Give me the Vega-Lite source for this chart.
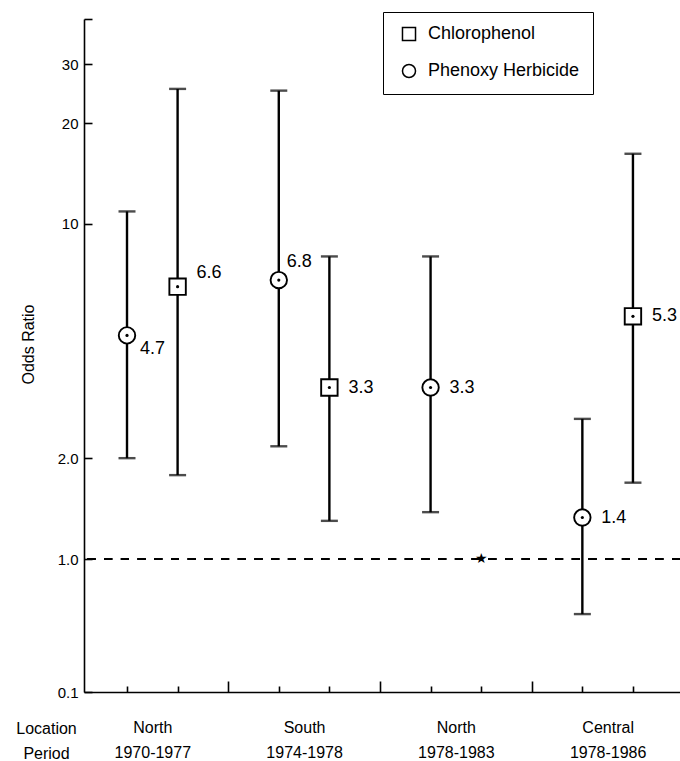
{
  "$schema": "https://vega.github.io/schema/vega-lite/v6.json",
  "autosize": "none",
  "width": 596,
  "height": 673,
  "padding": {"left": 84, "top": 19, "right": 0, "bottom": 69},
  "background": "white",
  "config": {
    "view": {"stroke": null},
    "font": "Liberation Sans",
    "text": {"font": "Liberation Sans"}
  },
  "datasets": {
    "est": [
      {"slot": 1, "type": "Phenoxy Herbicide", "or": 4.65, "lo": 2.0, "hi": 10.9, "label": "4.7"},
      {"slot": 2, "type": "Chlorophenol", "or": 6.5, "lo": 1.78, "hi": 25.3, "label": "6.6"},
      {"slot": 4, "type": "Phenoxy Herbicide", "or": 6.8, "lo": 2.17, "hi": 25.0, "label": "6.8"},
      {"slot": 5, "type": "Chlorophenol", "or": 3.25, "lo": 1.30, "hi": 8.0, "label": "3.3"},
      {"slot": 7, "type": "Phenoxy Herbicide", "or": 3.25, "lo": 1.38, "hi": 8.0, "label": "3.3"},
      {"slot": 10, "type": "Phenoxy Herbicide", "or": 1.33, "lo": 0.685, "hi": 2.62, "label": "1.4"},
      {"slot": 11, "type": "Chlorophenol", "or": 5.3, "lo": 1.69, "hi": 16.2, "label": "5.3"}
    ],
    "nodata": [
      {"slot": 8, "type": "Chlorophenol", "or": 1.0}
    ]
  },
  "data": {"name": "est"},
  "encoding": {
    "x": {
      "field": "slot",
      "type": "quantitative",
      "scale": {"domain": [0.15, 11.93], "nice": false, "zero": false},
      "axis": {
        "values": [1, 1.5, 2, 3, 4, 4.5, 5, 6, 7, 7.5, 8, 9, 10, 10.5, 11],
        "grid": false,
        "domainColor": "black",
        "domainWidth": 1.6,
        "tickColor": "black",
        "tickWidth": 1.6,
        "tickSize": {"condition": {"test": "datum.value % 3 === 0", "value": -11}, "value": -6},
        "tickOpacity": {"condition": {"test": "datum.value % 1 !== 0", "value": 0}, "value": 1},
        "labelExpr": "datum.value === 1.5 ? ['North','1970-1977'] : datum.value === 4.5 ? ['South','1974-1978'] : datum.value === 7.5 ? ['North','1978-1983'] : datum.value === 10.5 ? ['Central','1978-1986'] : ''",
        "labelFont": "Liberation Sans",
        "labelFontSize": 16,
        "labelColor": "black",
        "labelBaseline": "alphabetic",
        "labelLineHeight": 25,
        "labelPadding": 46,
        "labelOverlap": false,
        "labelFlush": false,
        "labelBound": false,
        "title": ["Location", "Period"],
        "titleFont": "Liberation Sans",
        "titleFontSize": 16,
        "titleFontWeight": "normal",
        "titleColor": "black",
        "titleLineHeight": 25,
        "titleX": -38,
        "titleY": 41,
        "titleAlign": "center",
        "titleBaseline": "alphabetic"
      }
    },
    "y": {
      "field": "or",
      "type": "quantitative",
      "scale": {"type": "log", "domain": [0.401, 40.9], "nice": false},
      "axis": {
        "values": [0.401, 1, 2, 10, 20, 30, 40.9],
        "grid": false,
        "domainColor": "black",
        "domainWidth": 1.6,
        "tickColor": "black",
        "tickWidth": 1.6,
        "tickSize": -8,
        "labelExpr": "datum.value < 0.5 ? '0.1' : datum.value > 35 ? '' : datum.value < 5 ? format(datum.value, '.1f') : format(datum.value, 'd')",
        "labelFont": "Liberation Sans",
        "labelFontSize": 15,
        "labelColor": "black",
        "labelPadding": 14,
        "labelOverlap": false,
        "labelFlush": false,
        "title": "Odds Ratio",
        "titleFont": "Liberation Sans",
        "titleFontSize": 16,
        "titleFontWeight": "normal",
        "titleColor": "black",
        "titleX": -56,
        "titleY": 325,
        "titleAngle": -90,
        "titleAlign": "center",
        "titleBaseline": "middle"
      }
    }
  },
  "layer": [
    {
      "mark": {"type": "rule", "stroke": "black", "strokeWidth": 1.4, "strokeDash": [8, 8.7]},
      "encoding": {"y": {"datum": 1}, "x": null}
    },
    {
      "mark": {"type": "rule", "stroke": "black", "strokeWidth": 2.4},
      "encoding": {"y": {"field": "lo", "type": "quantitative"}, "y2": {"field": "hi"}}
    },
    {
      "mark": {"type": "tick", "orient": "horizontal", "color": "black", "size": 17, "thickness": 2.4},
      "encoding": {"y": {"field": "lo", "type": "quantitative"}}
    },
    {
      "mark": {"type": "tick", "orient": "horizontal", "color": "black", "size": 17, "thickness": 2.4},
      "encoding": {"y": {"field": "hi", "type": "quantitative"}}
    },
    {
      "mark": {"type": "point", "filled": true, "strokeWidth": 1.9, "size": 270, "opacity": 1},
      "encoding": {
        "shape": {
          "field": "type",
          "type": "nominal",
          "scale": {"domain": ["Chlorophenol", "Phenoxy Herbicide"], "range": ["square", "circle"]},
          "legend": {
            "title": null,
            "orient": "none",
            "legendX": 299,
            "legendY": -7,
            "strokeColor": "black",
            "padding": 13,
            "symbolOffset": 4,
            "symbolSize": 170,
            "labelFontSize": 18,
            "labelColor": "black",
            "labelOffset": 10,
            "rowPadding": 17
          }
        },
        "fill": {
          "field": "type",
          "type": "nominal",
          "scale": {"domain": ["Chlorophenol", "Phenoxy Herbicide"], "range": ["white", "white"]},
          "legend": null
        },
        "stroke": {
          "field": "type",
          "type": "nominal",
          "scale": {"domain": ["Chlorophenol", "Phenoxy Herbicide"], "range": ["black", "black"]},
          "legend": null
        }
      }
    },
    {
      "mark": {"type": "point", "filled": true, "color": "black", "size": 10, "opacity": 1, "shape": "circle"},
      "encoding": {}
    },
    {
      "transform": [{"filter": "datum.slot >= 5"}],
      "mark": {"type": "text", "align": "left", "baseline": "middle", "dx": 19, "fontSize": 18, "color": "black"},
      "encoding": {"text": {"field": "label"}}
    },
    {
      "transform": [{"filter": "datum.slot === 1"}],
      "mark": {"type": "text", "align": "left", "baseline": "middle", "dx": 13, "dy": 14, "fontSize": 18, "color": "black"},
      "encoding": {"text": {"field": "label"}}
    },
    {
      "transform": [{"filter": "datum.slot === 2"}],
      "mark": {"type": "text", "align": "left", "baseline": "middle", "dx": 19, "dy": -14, "fontSize": 18, "color": "black"},
      "encoding": {"text": {"field": "label"}}
    },
    {
      "transform": [{"filter": "datum.slot === 4"}],
      "mark": {"type": "text", "align": "left", "baseline": "middle", "dx": 8, "dy": -18, "fontSize": 18, "color": "black"},
      "encoding": {"text": {"field": "label"}}
    },
    {
      "data": {"name": "nodata"},
      "mark": {"type": "text", "text": "★", "font": "DejaVu Sans", "fontSize": 14, "align": "center", "baseline": "middle", "color": "black"},
      "encoding": {}
    }
  ]
}
